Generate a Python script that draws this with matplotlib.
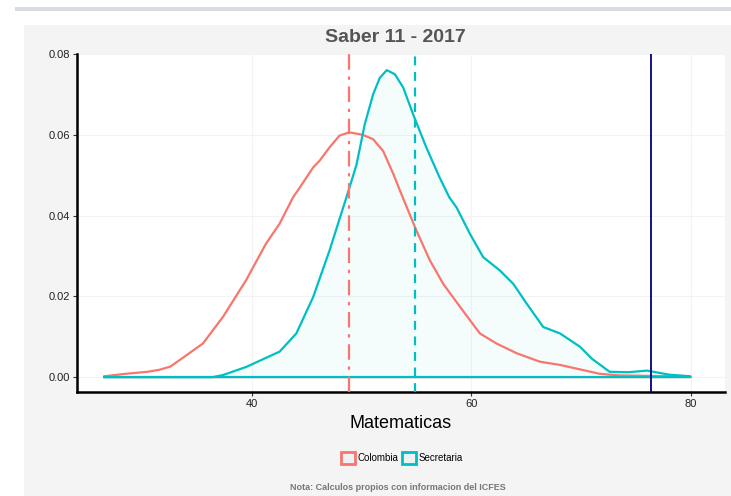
import matplotlib
matplotlib.use("Agg")
import matplotlib.pyplot as plt
from matplotlib.patches import Rectangle, Patch
import numpy as np

plt.rcParams['font.family'] = ['Liberation Sans Narrow', 'Liberation Sans', 'DejaVu Sans']

title = "Saber 11 - 2017"
xlabel = "Matematicas"
caption = "Nota: Calculos propios con informacion del ICFES"
groups = ["Colombia", "Secretaria"]

col_x = [26.6, 28.5, 30.5, 31.6, 32.6, 33.44, 35.56, 37.39, 39.5, 41.3, 42.55, 43.77,
         44.4, 45.6, 46.2, 47.1, 48.0, 48.9, 50.1, 51.06, 51.97, 52.9, 53.5, 55.0,
         56.23, 57.44, 58.97, 60.78, 62.3, 64.13, 66.25, 68.08, 69.9, 71.7, 73.5, 76.0, 80.0]
col_y = [0.0002, 0.0008, 0.0013, 0.0018, 0.0026, 0.0042, 0.0083, 0.0149, 0.0240, 0.0330,
         0.0380, 0.0445, 0.0470, 0.0519, 0.0536, 0.0569, 0.0598, 0.0606, 0.0600, 0.0589,
         0.0560, 0.0503, 0.0462, 0.0363, 0.0289, 0.0231, 0.0174, 0.0108, 0.0083, 0.0059,
         0.0038, 0.0030, 0.0019, 0.0008, 0.0004, 0.0003, 0.0001]

sec_x = [26.6, 36.5, 37.39, 39.5, 42.55, 44.07, 45.6, 47.1, 48.63, 49.54, 50.3, 51.06,
         51.67, 52.3, 53.04, 53.8, 54.7, 55.9, 57.1, 58.0, 58.66, 59.87, 61.08, 62.6,
         63.82, 65.04, 66.55, 68.08, 69.9, 71.0, 72.6, 74.3, 76.0, 78.0, 79.9]
sec_y = [0.0, 0.0, 0.0005, 0.0025, 0.0063, 0.0108, 0.0198, 0.0314, 0.0445, 0.0525,
         0.0626, 0.0700, 0.0741, 0.0760, 0.0750, 0.0717, 0.0651, 0.0569, 0.0495, 0.0445,
         0.0420, 0.0355, 0.0297, 0.0264, 0.0231, 0.0182, 0.0124, 0.0108, 0.0075, 0.0045,
         0.0013, 0.0012, 0.0016, 0.0006, 0.0002]

mean_col = 48.85
mean_sec = 54.86
ref_line = 76.37

xticks = [40, 60, 80]
yticks = [0.00, 0.02, 0.04, 0.06, 0.08]
ytick_labels = ["0.00", "0.02", "0.04", "0.06", "0.08"]

red = "#F8766D"
cyan = "#00BFC4"

W, H = 731, 496
fig = plt.figure(figsize=(W / 100, H / 100), dpi=100)
fig.patch.set_facecolor("white")

# gray panel background and top bar
bg = Rectangle((24 / W, 0), 1 - 24 / W, 1 - 25 / H, transform=fig.transFigure,
               facecolor="#f4f4f4", edgecolor="none", zorder=-10)
bar = Rectangle((15 / W, 1 - 11 / H), 1 - 15 / W, 4 / H, transform=fig.transFigure,
                facecolor="#d7dbe2", edgecolor="none", zorder=-10)
fig.add_artist(bg)
fig.add_artist(bar)

ax = fig.add_axes([77 / W, 1 - 392 / H, (725 - 77) / W, (392 - 54) / H])
ax.set_zorder(5)
ax.set_facecolor("white")
ax.set_xlim(24.1, 83.1)
ax.set_ylim(-0.0037, 0.08)

for xv in xticks:
    ax.axvline(xv, color="#f3f3f3", lw=0.8, zorder=0)
for yv in yticks:
    ax.axhline(yv, color="#f3f3f3", lw=0.8, zorder=0)

# fill
ax.fill_between(sec_x, sec_y, 0, color=cyan, alpha=0.04, lw=0, zorder=1)

# outlines with baseline
ax.plot(col_x + [col_x[-1], col_x[0]], col_y + [0, 0], color=red, lw=1.6, zorder=3,
        solid_joinstyle="round")
ax.plot(sec_x + [sec_x[-1], sec_x[0]], sec_y + [0, 0], color=cyan, lw=1.6, zorder=3,
        solid_joinstyle="round")

ax.axvline(mean_col, color=red, lw=1.6, dashes=(7, 3, 1.5, 3), zorder=4)
ax.axvline(mean_sec, color=cyan, lw=1.6, dashes=(4, 3), zorder=4)
ax.axvline(ref_line, color="#000080", lw=1.3, zorder=4)

for s in ["top", "right"]:
    ax.spines[s].set_visible(False)
ax.spines["left"].set_linewidth(1.8)
ax.spines["bottom"].set_linewidth(1.8)
ax.spines["left"].set_color("black")
ax.spines["bottom"].set_color("black")

ax.set_xticks(xticks)
ax.set_yticks(yticks)
ax.set_yticklabels(ytick_labels)
ax.tick_params(axis="both", length=3, width=0.8, color="#333333", labelsize=8,
               labelcolor="#222222", pad=2)

ax.set_xlabel(xlabel, fontsize=13, color="black", labelpad=4)
fig.text(395 / W, 1 - 38 / H, title, ha="center", va="center", fontsize=14,
         fontweight="bold", color="#555555")

handles = [Patch(facecolor="#eef2f2", edgecolor=red, lw=2),
           Patch(facecolor="#eef2f2", edgecolor=cyan, lw=2)]
fig.legend(handles, groups, loc="center", bbox_to_anchor=(402 / W, 1 - 458 / H),
           ncol=2, frameon=False, fontsize=7, handlelength=1.4, handleheight=1.4,
           handletextpad=0.3, columnspacing=0.4)

fig.text(398 / W, 1 - 487 / H, caption, ha="center", va="center", fontsize=6.5,
         fontweight="bold", color="#777777")

fig.savefig("out.png", dpi=100)
